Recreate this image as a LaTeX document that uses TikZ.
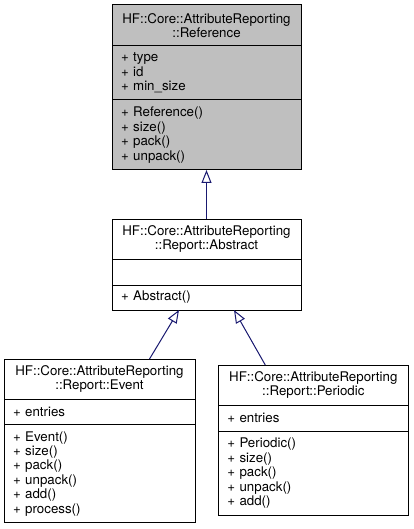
\documentclass[tikz,border=0pt]{standalone}
\usepackage{fontspec}
\setmainfont{TeX Gyre Heros}
\usetikzlibrary{positioning,arrows.meta}
\definecolor{edgeblue}{HTML}{191970}
\definecolor{basegray}{HTML}{BFBFBF}
\tikzset{
  part/.style={draw=black, line width=1pt, fill=white, inner sep=0pt, outer sep=0pt,
    minimum width=189pt, font=\fontsize{13.3}{14.4}\selectfont},
  head/.style={part, align=center},
  body/.style={part, align=left, text width=171pt},
  inherit/.style={draw=edgeblue, line width=1pt, -{Triangle[open,width=10pt,length=13pt]}}
}
\begin{document}
\begin{tikzpicture}[x=1pt,y=-1pt]
    \useasboundingbox (0,0) rectangle (413,529);
    % base class
    \node [head, fill=basegray, anchor=north, minimum height=40.7pt] (ref) at (206.5,5) {HF::Core::AttributeReporting\\::Reference};
    \node [body, fill=basegray, minimum height=54.3pt, below=0pt of ref] (ref-attr) {+ type\\+ id\\+ min\_size};
    \node [body, fill=basegray, minimum height=70pt, below=0pt of ref-attr] (ref-ops) {+ Reference()\\+ size()\\+ pack()\\+ unpack()};
    % abstract report
    \node [head, anchor=north, minimum height=39.7pt] (abs) at (206.5,219.3) {HF::Core::AttributeReporting\\::Report::Abstract};
    \node [body, minimum height=26pt, below=0pt of abs] (abs-attr) {};
    \node [body, minimum height=25pt, below=0pt of abs-attr] (abs-ops) {+ Abstract()};
    % event report
    \node [head, anchor=north, minimum width=191pt, minimum height=40pt] (ev) at (99.5,359) {HF::Core::AttributeReporting\\::Report::Event};
    \node [body, minimum width=191pt, text width=173pt, minimum height=25.7pt, below=0pt of ev] (ev-attr) {+ entries};
    \node [body, minimum width=191pt, text width=173pt, minimum height=98pt, below=0pt of ev-attr] (ev-ops) {+ Event()\\+ size()\\+ pack()\\+ unpack()\\+ add()\\+ process()};
    % periodic report
    \node [head, anchor=north, minimum width=190pt, minimum height=40pt] (per) at (313.3,365) {HF::Core::AttributeReporting\\::Report::Periodic};
    \node [body, minimum width=190pt, text width=172pt, minimum height=26pt, below=0pt of per] (per-attr) {+ entries};
    \node [body, minimum width=190pt, text width=172pt, minimum height=84.7pt, below=0pt of per-attr] (per-ops) {+ Periodic()\\+ size()\\+ pack()\\+ unpack()\\+ add()};
    % inheritance
    \draw [inherit] (abs.north) -- (ref-ops.south);
    \draw [inherit] ([xshift=50pt]ev.north) -- ([xshift=-27.5pt]abs-ops.south);
    \draw [inherit] ([xshift=-48pt]per.north) -- ([xshift=27.5pt]abs-ops.south);
\end{tikzpicture}
\end{document}
